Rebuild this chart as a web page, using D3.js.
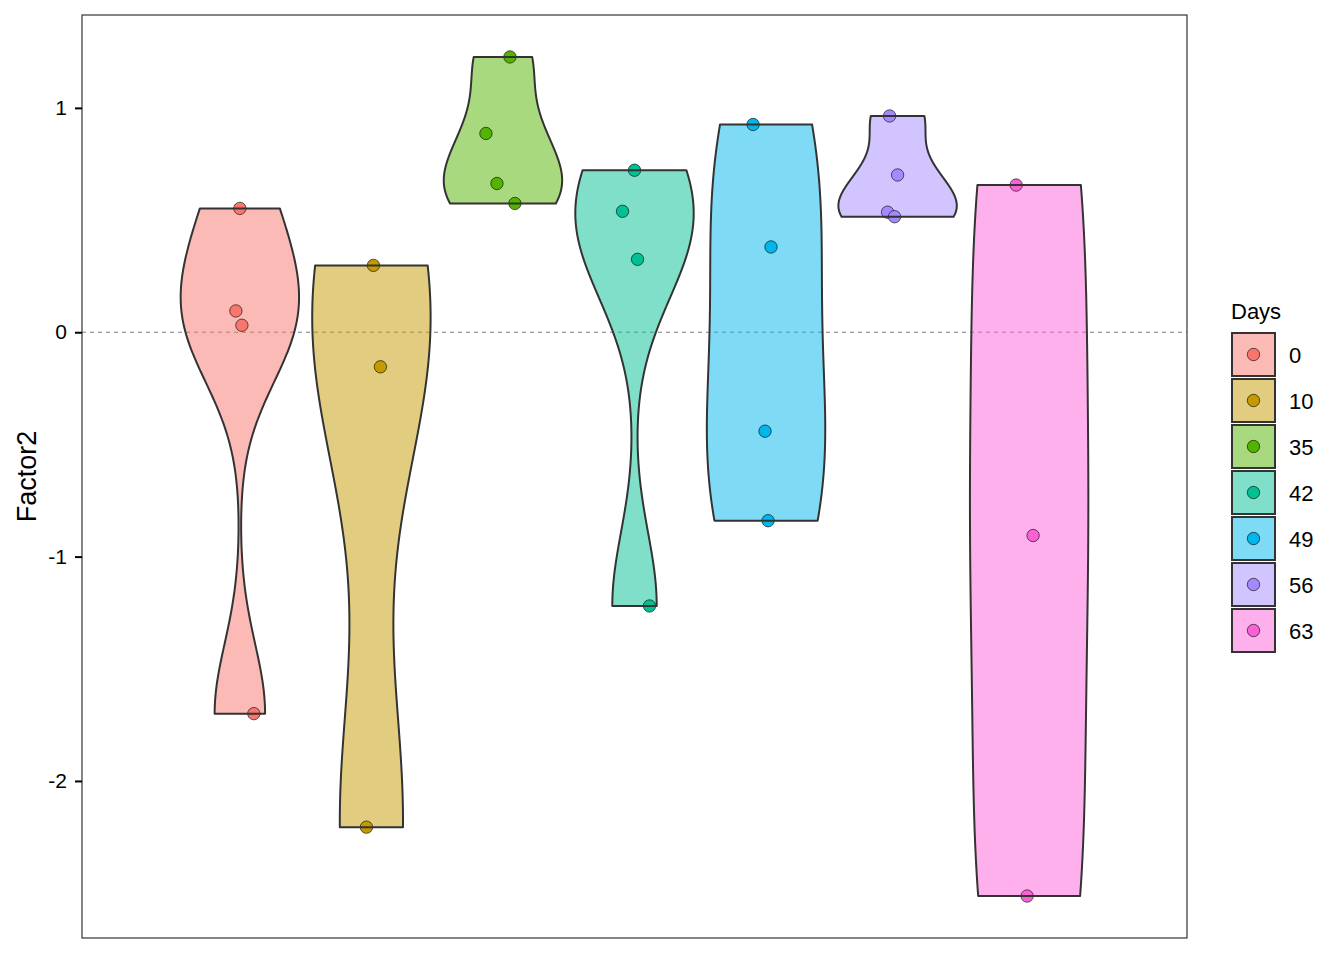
<!DOCTYPE html>
<html>
<head>
<meta charset="utf-8">
<script src="https://cdn.jsdelivr.net/npm/d3@7"></script>
<style>
  html, body { margin: 0; padding: 0; background: #ffffff; }
  svg { display: block; font-family: "Liberation Sans", Arial, sans-serif; }
</style>
</head>
<body>
<svg id="chart" width="1344" height="960"></svg>
<script>
// ---- data ----
const days = ["0", "10", "35", "42", "49", "56", "63"];
const dayColors = ["#F8766D", "#C49A00", "#53B400", "#00C094", "#00B6EB", "#A58AFF", "#FB61D7"];
const values0  = [0.552, 0.095, 0.031, -1.700];
const values10 = [0.298, -0.154, -2.206];
const values35 = [1.227, 0.886, 0.663, 0.574];
const values42 = [0.722, 0.539, 0.325, -1.220];
const values49 = [0.926, 0.380, -0.441, -0.840];
const values56 = [0.964, 0.701, 0.535, 0.515];
const values63 = [0.656, -0.906, -2.513];
// horizontal jitter of each point (x units)
const jitter0  = [0, -0.0043, 0.0022, 0.0152];
const jitter10 = [0.0022, 0.0098, -0.0054];
const jitter35 = [0.0076, -0.0185, -0.0065, 0.0130];
const jitter42 = [0, -0.0130, 0.0033, 0.0163];
const jitter49 = [-0.0141, 0.0054, -0.0011, 0.0022];
const jitter56 = [-0.0087, 0, -0.0109, -0.0033];
const jitter63 = [-0.0141, 0.0043, -0.0022];
const yTicks = [1, 0, -1, -2];
const yTitle = "Factor2";
const legendTitle = "Days";

const groupValues = [values0, values10, values35, values42, values49, values56, values63];
const groupJitter = [jitter0, jitter10, jitter35, jitter42, jitter49, jitter56, jitter63];

// ---- layout ----
const panel = { left: 82, right: 1187, top: 15, bottom: 938 };
const svg = d3.select("#chart");
svg.append("rect").attr("width", 1344).attr("height", 960).attr("fill", "#fff");

const allVals = groupValues.flat();
const [vmin, vmax] = d3.extent(allVals);
const pad = (vmax - vmin) * 0.05;
const y = d3.scaleLinear().domain([vmin - pad, vmax + pad]).range([panel.bottom, panel.top]);
const x = d3.scaleLinear().domain([0.4, 1.6]).range([panel.left, panel.right]);

const nG = days.length;
const dodge = 1 / nG;
const vWidth = 0.9 / nG;
const centerOf = i => 1 + (i - (nG - 1) / 2) * dodge;

// bw.nrd0
function bwNrd0(v) {
  const s = v.slice().sort(d3.ascending);
  const hi = d3.deviation(s);
  const iqr = d3.quantileSorted(s, 0.75) - d3.quantileSorted(s, 0.25);
  let lo = Math.min(hi, iqr / 1.34);
  if (!(lo > 0)) lo = hi || Math.abs(s[0]) || 1;
  return 0.9 * lo * Math.pow(s.length, -0.2);
}
function kde(v) {
  const bw = bwNrd0(v);
  const [a, b] = d3.extent(v);
  const n = 512;
  const pts = [];
  for (let k = 0; k < n; k++) {
    const t = a + (b - a) * k / (n - 1);
    let s = 0;
    for (const xi of v) { const u = (t - xi) / bw; s += Math.exp(-0.5 * u * u); }
    pts.push([t, s / (v.length * bw * Math.sqrt(2 * Math.PI))]);
  }
  const m = d3.max(pts, p => p[1]);
  return pts.map(p => [p[0], p[1] / m]);
}

const gPanel = svg.append("g");

// zero reference line
gPanel.append("line")
  .attr("x1", panel.left).attr("x2", panel.right)
  .attr("y1", y(0)).attr("y2", y(0))
  .attr("stroke", "#7f7f7f").attr("stroke-width", 1)
  .attr("stroke-dasharray", "4,4");

const densities = groupValues.map(kde);
const violinPath = (dens, i) => {
  const c = centerOf(i);
  const right = dens.map(p => [x(c + p[1] * vWidth / 2), y(p[0])]);
  const left = dens.slice().reverse().map(p => [x(c - p[1] * vWidth / 2), y(p[0])]);
  return d3.line()(right.concat(left)) + "Z";
};

// violin fills
gPanel.selectAll("path.vfill").data(densities).join("path")
  .attr("class", "vfill")
  .attr("d", (d, i) => violinPath(d, i))
  .attr("fill", (d, i) => dayColors[i]).attr("fill-opacity", 0.5)
  .attr("stroke", "none");

// points
const points = [];
groupValues.forEach((vals, i) => vals.forEach((v, j) => points.push({ g: i, v, jx: groupJitter[i][j] })));
gPanel.selectAll("circle.pt").data(points).join("circle")
  .attr("class", "pt")
  .attr("cx", d => x(centerOf(d.g) + d.jx))
  .attr("cy", d => y(d.v))
  .attr("r", 6.2)
  .attr("fill", d => dayColors[d.g])
  .attr("stroke", "rgba(0,0,0,0.6)").attr("stroke-width", 1);

// violin outlines
gPanel.selectAll("path.vline").data(densities).join("path")
  .attr("class", "vline")
  .attr("d", (d, i) => violinPath(d, i))
  .attr("fill", "none").attr("stroke", "#333333").attr("stroke-width", 2)
  .attr("stroke-linejoin", "round");

// panel border
svg.append("rect")
  .attr("x", panel.left).attr("y", panel.top)
  .attr("width", panel.right - panel.left).attr("height", panel.bottom - panel.top)
  .attr("fill", "none").attr("stroke", "#222").attr("stroke-width", 1.1);

// y axis
const yAxis = d3.axisLeft(y).tickValues(yTicks).tickSize(7).tickPadding(8).tickFormat(d => String(d));
const gy = svg.append("g").attr("transform", `translate(${panel.left},0)`).call(yAxis);
gy.select(".domain").remove();
gy.selectAll(".tick line").attr("stroke", "#000").attr("stroke-width", 2);
gy.selectAll(".tick text").attr("fill", "#000").style("font-size", "21px")
  .style("font-family", "Liberation Sans, Arial, sans-serif");

svg.append("text")
  .attr("transform", `translate(36,${(panel.top + panel.bottom) / 2}) rotate(-90)`)
  .attr("text-anchor", "middle")
  .style("font-size", "27px").attr("fill", "#000")
  .text(yTitle);

// legend
const lg = svg.append("g");
lg.append("text").attr("x", 1231).attr("y", 319).style("font-size", "22px").attr("fill", "#000").text(legendTitle);
const keys = lg.selectAll("g.key").data(days).join("g").attr("class", "key")
  .attr("transform", (d, i) => `translate(1232,${333 + 46 * i})`);
keys.append("rect").attr("x", 0).attr("y", 0).attr("width", 43).attr("height", 43)
  .attr("fill", (d, i) => dayColors[i]).attr("fill-opacity", 0.5)
  .attr("stroke", "#333").attr("stroke-width", 2);
keys.append("circle").attr("cx", 21.5).attr("cy", 21.5).attr("r", 6.2)
  .attr("fill", (d, i) => dayColors[i]).attr("stroke", "rgba(0,0,0,0.6)").attr("stroke-width", 1);
keys.append("text").attr("x", 57).attr("y", 22.5).attr("dy", "0.36em")
  .style("font-size", "22px").attr("fill", "#000").text(d => d);
</script>
</body>
</html>
